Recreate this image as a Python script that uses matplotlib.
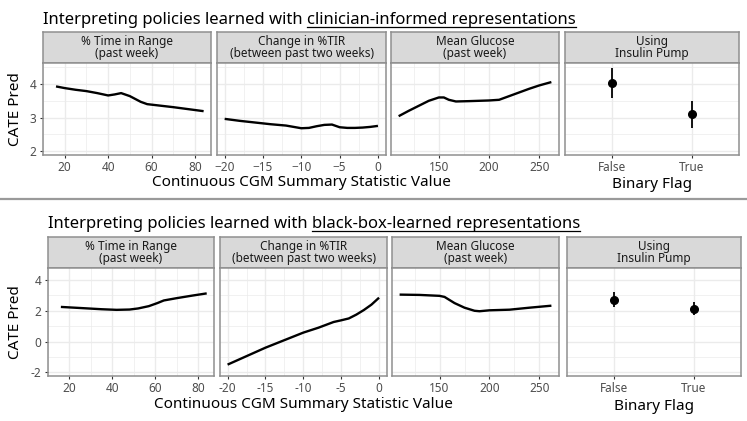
import numpy as np
import matplotlib.pyplot as plt

plt.rcParams['font.family'] = ['Noto Sans', 'DejaVu Sans']

# ---- data ---------------------------------------------------------------
strip_labels = ["% Time in Range\n(past week)",
                "Change in %TIR\n(between past two weeks)",
                "Mean Glucose\n(past week)",
                "Using\nInsulin Pump"]
flag_labels = ["False", "True"]

# clinician-informed
ci_tir_x = [16, 20, 25, 30, 35, 40, 43, 46, 50, 55, 58, 62, 70, 77, 84]
ci_tir_y = [3.93, 3.88, 3.83, 3.79, 3.73, 3.66, 3.69, 3.73, 3.64, 3.47, 3.40, 3.37, 3.31, 3.25, 3.19]
ci_dtir_x = [-20, -18, -16, -14, -12, -11, -10, -9, -8, -7, -6, -5, -4, -3, -2, -1, 0]
ci_dtir_y = [2.96, 2.90, 2.85, 2.80, 2.76, 2.72, 2.68, 2.69, 2.74, 2.78, 2.79, 2.71, 2.69, 2.69, 2.70, 2.72, 2.75]
ci_glu_x = [110, 120, 130, 140, 150, 155, 160, 167, 180, 200, 210, 220, 230, 240, 250, 262]
ci_glu_y = [3.04, 3.20, 3.35, 3.50, 3.60, 3.60, 3.53, 3.48, 3.49, 3.51, 3.53, 3.64, 3.75, 3.86, 3.96, 4.06]
ci_pump = [4.02, 3.10]
ci_pump_lo = [3.57, 2.70]
ci_pump_hi = [4.47, 3.50]

# black-box-learned
bb_tir_x = [16, 25, 35, 42, 48, 52, 57, 61, 64, 70, 77, 84]
bb_tir_y = [2.25, 2.18, 2.10, 2.06, 2.08, 2.15, 2.30, 2.50, 2.67, 2.82, 2.98, 3.13]
bb_dtir_x = [-20, -15, -10, -8, -6, -5, -4, -3, -2, -1, 0]
bb_dtir_y = [-1.50, -0.40, 0.58, 0.90, 1.27, 1.38, 1.50, 1.75, 2.05, 2.40, 2.85]
bb_glu_x = [110, 130, 150, 155, 160, 165, 175, 185, 190, 200, 220, 240, 262]
bb_glu_y = [3.05, 3.03, 2.97, 2.90, 2.70, 2.50, 2.20, 2.00, 1.97, 2.03, 2.07, 2.20, 2.33]
bb_pump = [2.72, 2.12]
bb_pump_lo = [2.22, 1.70]
bb_pump_hi = [3.22, 2.57]

W, H = 747, 421
fig = plt.figure(figsize=(W / 100, H / 100), dpi=100)


def box(x0, y0, x1, y1):
    return [x0 / W, 1 - y1 / H, (x1 - x0) / W, (y1 - y0) / H]


BORDER = '#8f8f8f'
GRID = '#ebebeb'


def style(ax):
    ax.set_facecolor('white')
    for s in ax.spines.values():
        s.set_color(BORDER)
        s.set_linewidth(1.1)
    ax.grid(True, which='major', color=GRID, lw=1.0, zorder=0)
    ax.grid(True, which='minor', color=GRID, lw=0.5, zorder=0)
    ax.set_axisbelow(True)
    ax.tick_params(which='major', length=2.5, color='#333333', labelsize=8.5,
                   labelcolor='#4d4d4d', pad=2)
    ax.tick_params(which='minor', length=0)


def strip(rect, label):
    s = fig.add_axes(rect)
    s.set_facecolor('#d9d9d9')
    s.set_xticks([])
    s.set_yticks([])
    for sp in s.spines.values():
        sp.set_color(BORDER)
        sp.set_linewidth(1.1)
    s.text(0.5, 0.5, label, ha='center', va='center', fontsize=8.5,
           color='#1a1a1a', linespacing=0.85, transform=s.transAxes)


def half(xs, top, strip_top, bot, title_word, title_y, sep_minus,
         curves, pump, lo, hi, ylim, yticks, yminor, ylabels):
    cont_ticks = [[20, 40, 60, 80], [-20, -15, -10, -5, 0], [150, 200, 250]]
    cont_minor = [[10, 30, 50, 70], [-17.5, -12.5, -7.5, -2.5], [125, 175, 225]]
    xlims = [(12.6, 87.4), (-21.0, 1.05), (102.4, 269.6)]
    axes = []
    for i, (x0, x1) in enumerate(xs):
        strip(box(x0, strip_top, x1, top), strip_labels[i])
        ax = fig.add_axes(box(x0, top, x1, bot))
        style(ax)
        ax.set_ylim(*ylim)
        ax.set_yticks(yticks)
        ax.set_yticks(yminor, minor=True)
        if i == 0:
            ax.set_yticklabels(ylabels)
        else:
            ax.tick_params(axis='y', which='both', length=0, labelleft=False)
        if i < 3:
            cx, cy = curves[i]
            ax.plot(cx, cy, color='black', lw=1.7, solid_capstyle='butt')
            ax.set_xlim(*xlims[i])
            ax.set_xticks(cont_ticks[i])
            ax.set_xticks(cont_minor[i], minor=True)
            labs = [str(t) for t in cont_ticks[i]]
            if sep_minus:
                labs = [l.replace('-', '\u2212') for l in labs]
            ax.set_xticklabels(labs)
        else:
            pos = np.arange(1, len(flag_labels) + 1)
            err = [np.array(pump) - np.array(lo), np.array(hi) - np.array(pump)]
            ax.errorbar(pos, pump, yerr=err, fmt='o', color='black', ms=5.5,
                        elinewidth=1.3, capsize=0)
            ax.set_xlim(0.4, 2.6)
            ax.set_xticks(pos)
            ax.set_xticklabels(flag_labels)
        axes.append(ax)
    # labels
    mid = (xs[0][0] + xs[2][1]) / 2
    fig.text(mid / W, 1 - (bot + 28) / H, "Continuous CGM Summary Statistic Value",
             ha='center', va='center', fontsize=11)
    fig.text((xs[3][0] + xs[3][1]) / 2 / W, 1 - (bot + 30) / H, "Binary Flag",
             ha='center', va='center', fontsize=11)
    fig.text(16 / W, 1 - ((top + bot) / 2) / H, "CATE Pred", rotation=90,
             ha='center', va='center', fontsize=11)
    # title with underlined part
    t1 = fig.text(xs[0][0] / W, 1 - title_y / H, "Interpreting policies learned with ",
                  ha='left', va='baseline', fontsize=12)
    r = fig.canvas.get_renderer()
    e1 = t1.get_window_extent(r)
    t2 = fig.text(e1.x1 / W / fig.dpi * 100, 1 - title_y / H, title_word,
                  ha='left', va='baseline', fontsize=12)
    e2 = t2.get_window_extent(r)
    uy = 1 - (title_y + 3) / H
    fig.add_artist(plt.Line2D([e2.x0 / (W * fig.dpi / 100), e2.x1 / (W * fig.dpi / 100)],
                              [uy, uy], color='black', lw=0.9,
                              transform=fig.transFigure))


half([(43, 211), (217, 386), (391, 559), (565, 739)], 63, 32, 155,
     "clinician-informed representations", 24, True,
     [(ci_tir_x, ci_tir_y), (ci_dtir_x, ci_dtir_y), (ci_glu_x, ci_glu_y)],
     ci_pump, ci_pump_lo, ci_pump_hi,
     (1.88, 4.63), [2, 3, 4], [2.5, 3.5, 4.5], ["2", "3", "4"])

half([(48, 214), (220, 387), (392, 559), (567, 741)], 268, 237, 376,
     "black-box-learned representations", 228, False,
     [(bb_tir_x, bb_tir_y), (bb_dtir_x, bb_dtir_y), (bb_glu_x, bb_glu_y)],
     bb_pump, bb_pump_lo, bb_pump_hi,
     (-2.24, 4.78), [-2, 0, 2, 4], [-1, 1, 3], ["-2", "0", "2", "4"])

# separator between the two halves
fig.add_artist(plt.Line2D([0, 1], [1 - 198.5 / H, 1 - 198.5 / H], color='#9a9a9a',
                          lw=1.6, transform=fig.transFigure))

fig.savefig("out.png", dpi=100)
